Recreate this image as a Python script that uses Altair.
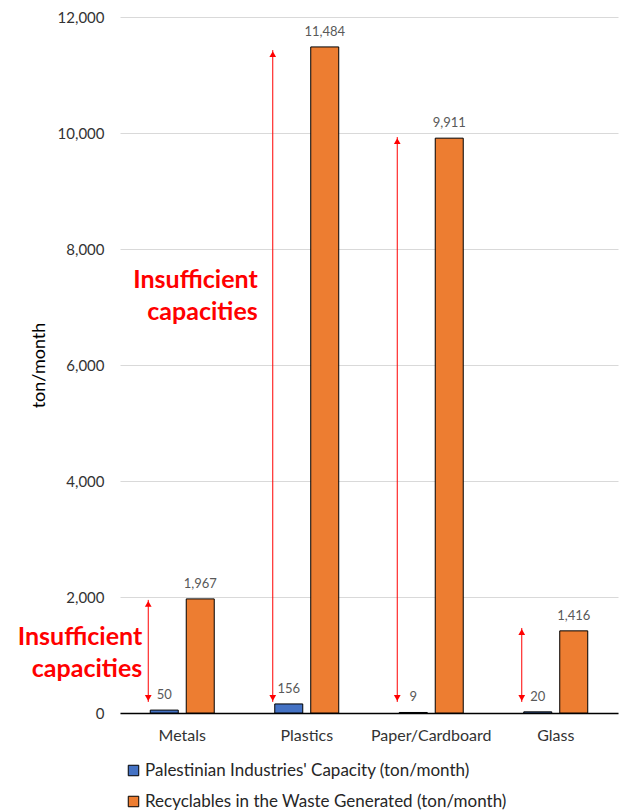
import altair as alt
import pandas as pd

categories = ["Metals", "Plastics", "Paper/Cardboard", "Glass"]
capacity = [50, 156, 9, 20]
recyclables = [1967, 11484, 9911, 1416]
series_names = [
    "Palestinian Industries' Capacity (ton/month)",
    "Recyclables in the Waste Generated (ton/month)",
]
series_colors = ["#4472C4", "#ED7D31"]
arrow_top = [1950, 11430, 9930, 1466]
arrow_bottom = [190, 190, 190, 190]
note_lower = {"category": "Metals", "value": 1315, "text": "Insufficient\ncapacities"}
note_upper = {"category": "Plastics", "value": 7466, "text": "Insufficient\ncapacities"}
y_ticks = [0, 2000, 4000, 6000, 8000, 10000, 12000]

FONT = "Lato"

bars_df = pd.DataFrame({
    "category": categories * 2,
    "series": [series_names[0]] * 4 + [series_names[1]] * 4,
    "value": capacity + recyclables,
})
arrows_df = pd.DataFrame({"category": categories, "value": arrow_bottom, "value2": arrow_top})
top_df = pd.DataFrame({"category": categories, "value": arrow_top})
bot_df = pd.DataFrame({"category": categories, "value": arrow_bottom})

yscale = alt.Scale(domain=[0, 12000], nice=False)
xscale = alt.Scale(paddingInner=0.486, paddingOuter=0.243)

x_axis = alt.Axis(title=None, labelAngle=0, ticks=False, domain=True, domainColor="#000000",
                  domainWidth=1.5, labelPadding=14, labelFontSize=16, labelColor="#333333",
                  labelFont=FONT, grid=False)
y_axis = alt.Axis(values=y_ticks, format=",.0f", grid=True, gridColor="#D9D9D9", gridWidth=1,
                  domain=False, ticks=False, labelPadding=16, labelFontSize=15,
                  labelColor="#333333", labelFont=FONT, title="ton/month", titleFontSize=18,
                  titleFontWeight="normal", titleColor="#000000", titleFont=FONT,
                  titlePadding=9)


def X():
    return alt.X("category:N", sort=categories, scale=xscale, axis=x_axis, title=None)


def Y():
    return alt.Y("value:Q", scale=yscale, axis=y_axis, title="ton/month")


xoff = alt.XOffset("series:N", sort=series_names,
                   scale=alt.Scale(paddingInner=0.222, paddingOuter=0))

bars = alt.Chart(bars_df).mark_bar(stroke="#000000", strokeWidth=1).encode(
    x=X(), xOffset=xoff, y=Y(),
    color=alt.Color(
        "series:N", sort=series_names,
        scale=alt.Scale(domain=series_names, range=series_colors),
        legend=alt.Legend(title=None, orient="none", legendX=5, legendY=745,
                          direction="vertical", symbolType="square", symbolSize=110,
                          symbolStrokeColor="#000000", symbolStrokeWidth=1,
                          labelFontSize=17, labelColor="#262626", labelFont=FONT,
                          rowPadding=13, labelOffset=3, padding=0, labelLimit=0),
    ),
)

labels = alt.Chart(bars_df).mark_text(
    baseline="bottom", dy=-8, fontSize=13, color="#595959", font=FONT
).encode(x=X(), xOffset=xoff, y=Y(), text=alt.Text("value:Q", format=",.0f"))

arrow_lines = alt.Chart(arrows_df).mark_rule(color="#FF0000", strokeWidth=1, xOffset=-34).encode(
    x=X(), y=Y(), y2="value2:Q"
)
arrow_up = alt.Chart(top_df).mark_point(
    shape="triangle-up", filled=True, color="#FF0000", size=45, opacity=1, xOffset=-34, yOffset=4
).encode(x=X(), y=Y())
arrow_down = alt.Chart(bot_df).mark_point(
    shape="triangle-down", filled=True, color="#FF0000", size=45, opacity=1, xOffset=-34, yOffset=-4
).encode(x=X(), y=Y())

note_style = dict(align="right", baseline="middle", fontSize=25, fontWeight="bold",
                  color="#FF0000", lineHeight=32, lineBreak="\n", font=FONT)
note1 = alt.Chart(pd.DataFrame([note_lower])).mark_text(dx=-40, **note_style).encode(
    x=X(), y=Y(), text="text:N")
note2 = alt.Chart(pd.DataFrame([note_upper])).mark_text(dx=-49, **note_style).encode(
    x=X(), y=Y(), text="text:N")

chart = alt.layer(bars, labels, arrow_lines, arrow_up, arrow_down, note1, note2).properties(
    width=498, height=696,
    autosize=alt.AutoSizeParams(type="none"),
    padding={"left": 120, "top": 17, "right": 1, "bottom": 99},
).configure(font=FONT).configure_view(stroke=None)

chart.save("out.html", embed_options={"renderer": "svg", "actions": False})
